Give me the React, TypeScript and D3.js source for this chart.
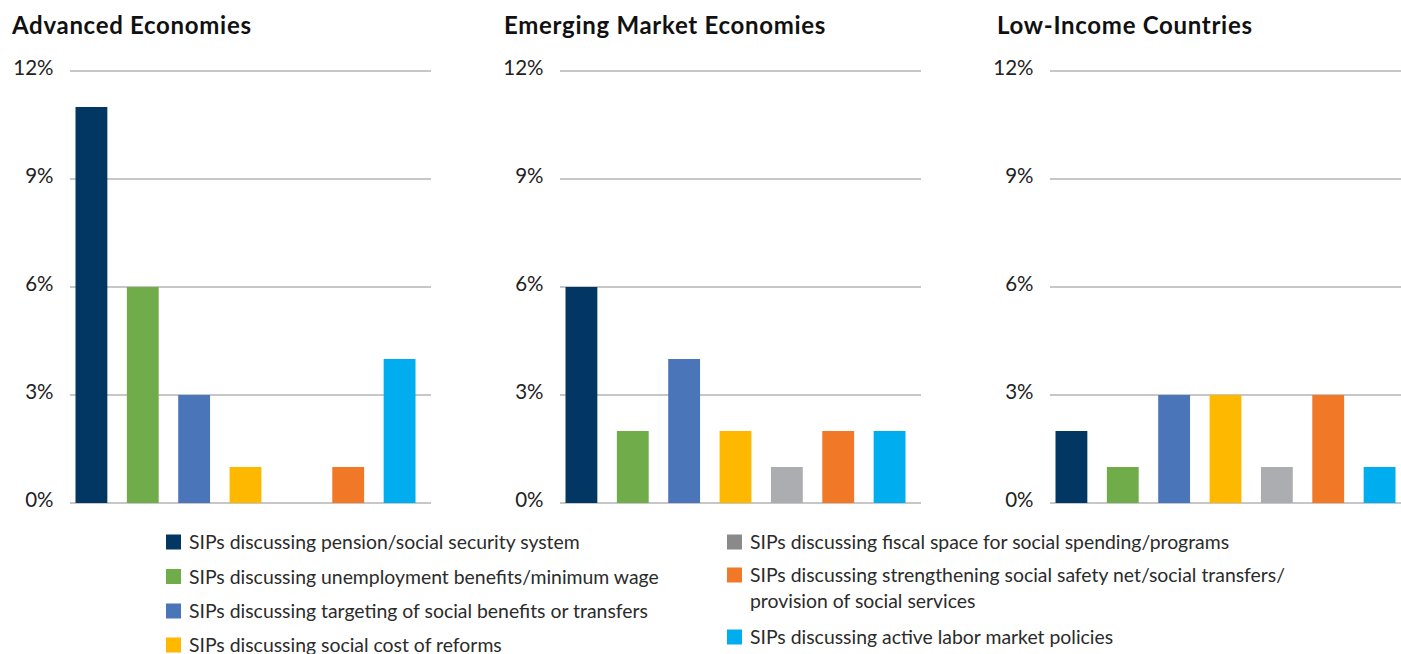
import React from "react";
import * as d3 from "d3";

const panelTitles = ["Advanced Economies", "Emerging Market Economies", "Low-Income Countries"];
const categories = [
  "SIPs discussing pension/social security system",
  "SIPs discussing unemployment benefits/minimum wage",
  "SIPs discussing targeting of social benefits or transfers",
  "SIPs discussing social cost of reforms",
  "SIPs discussing fiscal space for social spending/programs",
  "SIPs discussing strengthening social safety net/social transfers/ provision of social services",
  "SIPs discussing active labor market policies",
];
const advanced = [11, 6, 3, 1, 0, 1, 4];
const emerging = [6, 2, 4, 2, 1, 2, 2];
const lowIncome = [2, 1, 3, 3, 1, 3, 1];
const seriesByPanel = [advanced, emerging, lowIncome];
const yTicks = [0, 3, 6, 9, 12];
const barColors = ["#023764", "#70ac4a", "#4a75b9", "#ffb800", "#acadb1", "#f07826", "#00aeef"];
const legendColors = ["#023764", "#70ac4a", "#4a75b9", "#ffb800", "#8a8a8a", "#f07826", "#00aeef"];

const W = 1401;
const H = 654;
const panelOffsets = [0, 490, 980];
const titleX = [12, 504, 997];

export default function App() {
  const y = d3.scaleLinear().domain([0, 12]).range([503, 71]);
  const idx = d3.range(categories.length);

  const legendLeft = [0, 1, 2, 3];
  const legendRight = [4, 5, 6];
  const leftY = [549, 583.5, 618, 652];
  const rightY = [549, 582, 644];

  return (
    <svg width={W} height={H} style={{ position: "absolute", left: 0, top: 0, background: "#fff" }}>
      {panelOffsets.map((off, p) => {
        const x = d3
          .scaleBand<number>()
          .domain(idx)
          .range([off + 75.5, off + 415.5])
          .paddingInner(0.38)
          .paddingOuter(0);
        const vals = seriesByPanel[p];
        return (
          <g key={p}>
            <text
              x={titleX[p]}
              y={34}
              fontFamily="Lato, 'Open Sans', sans-serif"
              fontWeight={700}
              fontSize={24}
              letterSpacing={0.7}
              fill="#111"
            >
              {panelTitles[p]}
            </text>
            {yTicks.map((t) => (
              <g key={t}>
                <line
                  x1={off + 70}
                  x2={Math.min(off + 431, W)}
                  y1={y(t)}
                  y2={y(t)}
                  stroke="#c7c7c7"
                  strokeWidth={2}
                />
                <text
                  x={off + 53.5}
                  y={y(t) + 3.5}
                  textAnchor="end"
                  fontFamily="Lato, 'Open Sans', sans-serif"
                  fontWeight={400}
                  fontSize={20.5}
                  fill="#222"
                >
                  {t}%
                </text>
              </g>
            ))}
            {vals.map((v, i) =>
              v > 0 ? (
                <rect
                  key={i}
                  x={x(i)}
                  y={y(v)}
                  width={x.bandwidth()}
                  height={y(0) - y(v)}
                  fill={barColors[i]}
                />
              ) : null
            )}
          </g>
        );
      })}
      <g fontFamily="Lato, 'Open Sans', sans-serif" fontWeight={400} fontSize={19.4} fill="#2b2b2b">
        {legendLeft.map((ci, r) => (
          <g key={ci}>
            <rect x={166} y={leftY[r] - 14.5} width={15} height={15} fill={legendColors[ci]} />
            <text x={189} y={leftY[r]}>
              {categories[ci]}
            </text>
          </g>
        ))}
        {legendRight.map((ci, r) => {
          const lines = categories[ci].split("/ ");
          return (
            <g key={ci}>
              <rect x={727} y={rightY[r] - 14.5} width={15} height={15} fill={legendColors[ci]} />
              <text x={750} y={rightY[r]}>
                {lines.length > 1 ? lines[0] + "/" : lines[0]}
              </text>
              {lines.length > 1 ? (
                <text x={750} y={rightY[r] + 26}>
                  {lines[1]}
                </text>
              ) : null}
            </g>
          );
        })}
      </g>
    </svg>
  );
}
